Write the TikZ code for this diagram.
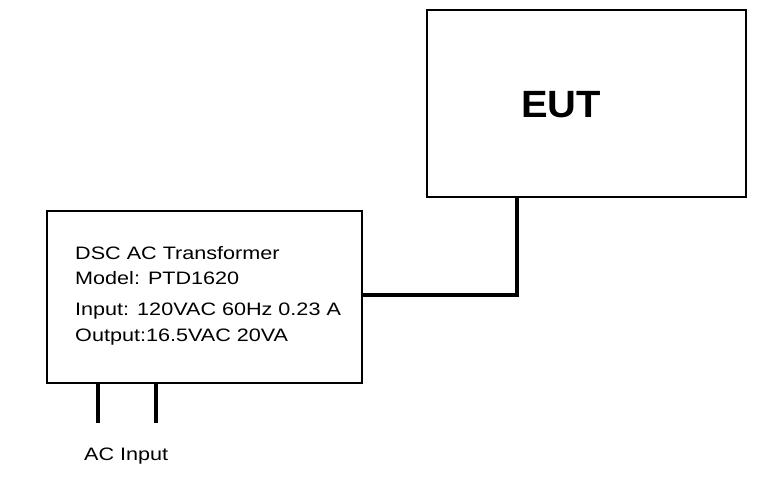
\documentclass[tikz,border=0pt]{standalone}
\usepackage{fontspec}
\setmainfont{Liberation Sans}
\newfontfamily\lsans[FakeStretch=1.2]{Liberation Sans}
\newfontfamily\lsanseut[FakeStretch=1.05]{Liberation Sans}
\begin{document}
\begin{tikzpicture}[x=1pt,y=-1pt,
  boxst/.style={draw=black,line width=2pt,inner sep=0pt,fill=white},
  wire/.style={draw=black,line width=3.4pt},
  txt/.style={anchor=base west,inner sep=0pt,font=\lsans\fontsize{18}{20}\selectfont}]
\useasboundingbox[fill=white] (0,0) rectangle (773,485);
\node[boxst,minimum width=319pt,minimum height=187pt] (eut) at (586.5,103.5) {};
\node[anchor=center,inner sep=0pt,font=\lsanseut\bfseries\fontsize{38}{40}\selectfont] (eutlabel) at (561,105) {EUT};
\node[boxst,minimum width=315pt,minimum height=172pt] (tr) at (204.5,297) {};
\node[txt] (l1) at (75,259) {DSC AC Transformer};
\node[txt] (l2) at (75,284) {Model: PTD1620};
\node[txt] (l3) at (75,315) {Input: 120VAC 60Hz 0.23 A};
\node[txt] (l4) at (75,341) {Output:16.5VAC 20VA};
\coordinate (j) at (517,295);
\draw[wire] (eut.south -| j) -- (j) -- (tr.east |- j);
\coordinate (leg1) at (98,423);
\coordinate (leg2) at (156,423);
\draw[wire] (tr.south -| leg1) -- (leg1);
\draw[wire] (tr.south -| leg2) -- (leg2);
\node[txt] (acin) at (84,460) {AC Input};
\end{tikzpicture}
\end{document}
